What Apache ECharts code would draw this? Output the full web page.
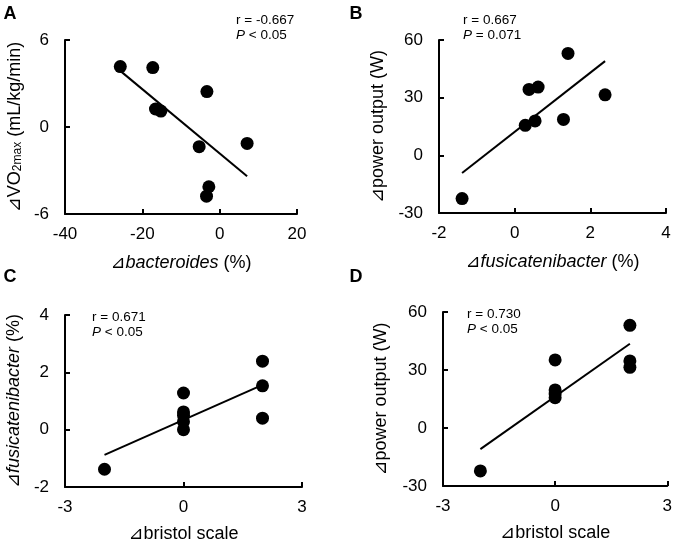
<!DOCTYPE html>
<html>
<head>
<meta charset="utf-8">
<script src="https://cdn.jsdelivr.net/npm/echarts@6/dist/echarts.min.js"></script>
<style>
html,body{margin:0;padding:0;background:#fff;}
#chart{width:675px;height:544px;}
</style>
</head>
<body>
<div id="chart"></div>
<script>
// Panel A: Δbacteroides (%) vs ΔVO2max
const aX = [-25.7, -17.3, -3.3, -16.6, -15.2, -5.3, 7.1, -2.8, -3.4];
const aY = [4.17, 4.1, 2.44, 1.24, 1.1, -1.36, -1.13, -4.12, -4.77];
const aFitX = [-25.7, 7.1];
const aFitY = [3.87, -3.39];
// Panel B: Δfusicatenibacter (%) vs Δpower output (W)
const bX = [-1.39, 1.41, 0.38, 0.62, 2.39, 0.28, 0.54, 1.29];
const bY = [-22.5, 53.0, 34.3, 35.5, 31.5, 15.6, 17.9, 18.7];
const bFitX = [-1.39, 2.39];
const bFitY = [-9.2, 49.0];
// Panel C: Δbristol scale vs Δfusicatenibacter (%)
const cX = [-2, 0, 0, 0, 0, 0, 2, 2, 2];
const cY = [-1.38, 1.28, 0.62, 0.5, 0.28, 0.0, 2.39, 1.53, 0.4];
const cFitX = [-2, 2];
const cFitY = [-0.88, 1.56];
// Panel D: Δbristol scale vs Δpower output (W)
const dX = [-2, 0, 0, 0, 0, 2, 2, 2];
const dY = [-22.2, 35.2, 19.7, 17.6, 15.7, 53.1, 34.7, 31.4];
const dFitX = [-2, 2];
const dFitY = [-10.9, 43.6];

const aStats = ['r = -0.667', 'P', ' < 0.05'];
const bStats = ['r = 0.667', 'P', ' = 0.071'];
const cStats = ['r = 0.671', 'P', ' < 0.05'];
const dStats = ['r = 0.730', 'P', ' < 0.05'];

const FONT = '"Liberation Sans", Arial, "DejaVu Sans", "Noto Sans CJK JP", sans-serif';
const BLACK = '#000';

function zip(xs, ys){ return xs.map((x,i)=>[x, ys[i]]); }

const grids = [
  {left:65, top:40, width:232, height:174},
  {left:439, top:40, width:227, height:173},
  {left:65, top:315, width:237, height:175},
  {left:443, top:312, width:225, height:174}
];

const nameRich = {
  i:{fontStyle:'italic', fontSize:18, fontFamily:FONT, color:BLACK},
  n:{fontSize:18, fontFamily:FONT, color:BLACK},
  s:{fontSize:12, fontFamily:FONT, color:BLACK, verticalAlign:'bottom', padding:[6,0,0,0]}
};

function xAxis(gi, min, max, interval, name, gap){
  return {
    gridIndex:gi, type:'value', min:min, max:max, interval:interval,
    name:name, nameLocation:'middle', nameGap:gap,
    nameTextStyle:{rich:nameRich, fontSize:18, fontFamily:FONT, color:BLACK},
    axisLine:{show:true, onZero:false, lineStyle:{color:BLACK, width:2}},
    axisTick:{show:true, inside:true, length:5, lineStyle:{color:BLACK, width:2}},
    axisLabel:{fontSize:17, fontFamily:FONT, color:BLACK, margin:12, showMinLabel:true, showMaxLabel:true},
    splitLine:{show:false}
  };
}
function yAxis(gi, min, max, interval, name, gap){
  return {
    gridIndex:gi, type:'value', min:min, max:max, interval:interval,
    name:name, nameLocation:'middle', nameGap:gap, nameRotate:90,
    nameTextStyle:{rich:nameRich, fontSize:18, fontFamily:FONT, color:BLACK},
    axisLine:{show:true, onZero:false, lineStyle:{color:BLACK, width:2}},
    axisTick:{show:true, inside:true, length:5, lineStyle:{color:BLACK, width:2}},
    axisLabel:{fontSize:17, fontFamily:FONT, color:BLACK, margin:16, showMinLabel:true, showMaxLabel:true},
    splitLine:{show:false}
  };
}

function scatter(gi, xs, ys){
  return {type:'scatter', xAxisIndex:gi, yAxisIndex:gi, data:zip(xs, ys),
    symbol:'circle', symbolSize:13, itemStyle:{color:BLACK, opacity:1}, z:3, silent:true};
}
function fit(gi, xs, ys){
  return {type:'line', xAxisIndex:gi, yAxisIndex:gi, data:zip(xs, ys),
    showSymbol:false, symbol:'none', lineStyle:{color:BLACK, width:2}, z:2, silent:true};
}

function letter(txt, x, y){
  return {type:'text', x:x, y:y, style:{text:txt, font:'bold 18px '+FONT, fill:BLACK, textAlign:'center', textVerticalAlign:'middle'}};
}
function stats(s, x, y){
  return {type:'text', x:x, y:y, style:{
    text: s[0] + '\n{i|' + s[1] + '}{n|' + s[2] + '}',
    fontSize:13.5, fontFamily:FONT, fill:BLACK, lineHeight:15,
    rich:{i:{fontStyle:'italic', fontSize:13.5, fontFamily:FONT, lineHeight:15}, n:{fontSize:13.5, fontFamily:FONT, lineHeight:15}}
  }};
}

const chart = echarts.init(document.getElementById('chart'), null, {renderer:'canvas'});
chart.setOption({
  animation:false,
  backgroundColor:'#fff',
  grid:grids,
  xAxis:[
    xAxis(0, -40, 20, 20, '{i|⊿bacteroides}{n| (%)}', 40),
    xAxis(1, -2, 4, 2, '{i|⊿fusicatenibacter}{n| (%)}', 40),
    xAxis(2, -3, 3, 3, '{n|⊿bristol scale}', 38),
    xAxis(3, -3, 3, 3, '{n|⊿bristol scale}', 38)
  ],
  yAxis:[
    yAxis(0, -6, 6, 6, '{n|⊿VO}{s|2max}{n| (mL/kg/min)}', 41),
    yAxis(1, -30, 60, 30, '{n|⊿power output (W)}', 52),
    yAxis(2, -2, 4, 2, '{i|⊿fusicatenibacter}{n| (%)}', 42),
    yAxis(3, -30, 60, 30, '{n|⊿power output (W)}', 53)
  ],
  series:[
    fit(0, aFitX, aFitY), scatter(0, aX, aY),
    fit(1, bFitX, bFitY), scatter(1, bX, bY),
    fit(2, cFitX, cFitY), scatter(2, cX, cY),
    fit(3, dFitX, dFitY), scatter(3, dX, dY)
  ],
  graphic:[
    letter('A', 10, 14), letter('B', 356, 14), letter('C', 10, 277), letter('D', 356, 277),
    stats(aStats, 236, 13), stats(bStats, 463, 13), stats(cStats, 92, 310), stats(dStats, 467, 307)
  ]
});
</script>
</body>
</html>
